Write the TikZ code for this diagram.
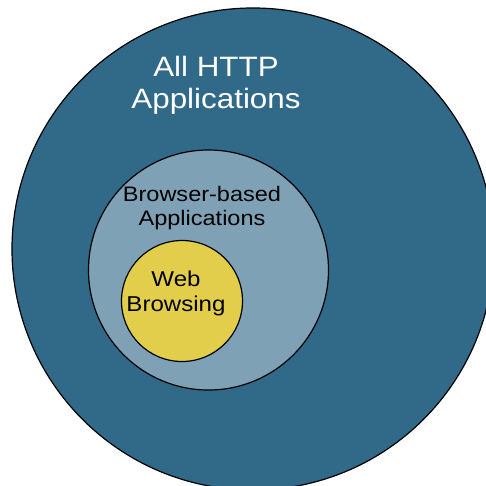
\documentclass[tikz,border=0pt]{standalone}
\usepackage{fontspec}
\setmainfont{Liberation Sans}
\newfontfamily\widesans[FakeStretch=1.12]{Liberation Sans}
\definecolor{outerblue}{RGB}{49,106,137}
\definecolor{midblue}{RGB}{127,161,182}
\definecolor{webyellow}{RGB}{227,206,76}
\begin{document}
\begin{tikzpicture}[x=1pt,y=-1pt,
  ring/.style={draw=black,line width=1.2pt},
  label/.style={align=center,inner sep=0pt,font=\widesans}]
\useasboundingbox (0,0) rectangle (486,485);
\clip (0,0) rectangle (486,485);
% nested sets of applications
\fill[outerblue] (253,249) circle[radius=241];
\draw[ring] (253,249) circle[radius=241];
\fill[midblue] (208.5,270) circle[radius=120];
\draw[ring] (208.5,270) circle[radius=120];
\fill[webyellow] (182,301) circle[radius=60.5];
\draw[ring] (182,301) circle[radius=60.5];
% set names
\node[label,text=white,font=\widesans\fontsize{28}{32}\selectfont] (http) at (216,85) {All HTTP\\Applications};
\node[label,font=\widesans\fontsize{21}{23.5}\selectfont] (browser) at (202,208) {Browser-based\\Applications};
\node[label,font=\widesans\fontsize{21.5}{25}\selectfont] (web) at (176,293) {Web\\Browsing};
\end{tikzpicture}
\end{document}
